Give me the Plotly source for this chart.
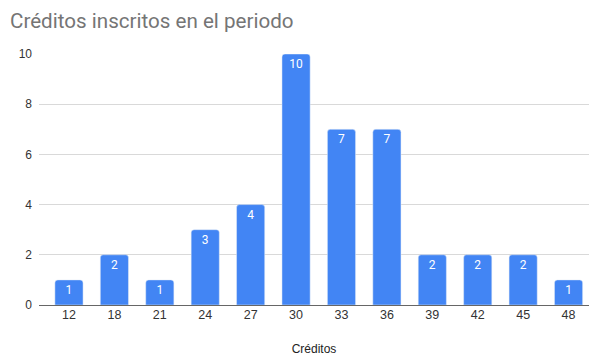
import plotly.graph_objects as go

categories = ["12", "18", "21", "24", "27", "30", "33", "36", "39", "42", "45", "48"]
values = [1, 2, 1, 3, 4, 10, 7, 7, 2, 2, 2, 1]
y_ticks = [0, 2, 4, 6, 8, 10]

fig = go.Figure(go.Bar(
    x=categories, y=values,
    marker=dict(color="#4285F4", cornerradius=3),
    text=[str(v) for v in values],
    textposition="inside", insidetextanchor="end",
    textfont=dict(color="white", size=12, family="Roboto"),
    hoverinfo="skip",
))
fig.update_layout(
    width=589, height=356,
    margin=dict(l=39, r=0, t=54, b=51),
    paper_bgcolor="white", plot_bgcolor="white",
    bargap=0.38,
    title=dict(text="Créditos inscritos en el periodo", x=0.017, xanchor="left",
               y=0.943, yanchor="middle",
               font=dict(family="Roboto", size=20.6, color="#757575")),
    font=dict(family="Liberation Sans, Arial", size=12, color="#444444"),
    xaxis=dict(type="category", range=[-0.66, 11.45], showgrid=False,
               showline=False, ticks="", tickfont=dict(size=12.5, color="#333333"),
               title=dict(text="Créditos", font=dict(size=12, color="#222222"), standoff=24)),
    yaxis=dict(range=[0, 10], tickvals=y_ticks, showgrid=True, gridcolor="#d9d9d9",
               zeroline=True, zerolinecolor="#666666", zerolinewidth=1,
               ticks="", tickfont=dict(size=12, color="#333333"), ticklabelstandoff=6),
    showlegend=False,
)
fig.write_html("out.html")
